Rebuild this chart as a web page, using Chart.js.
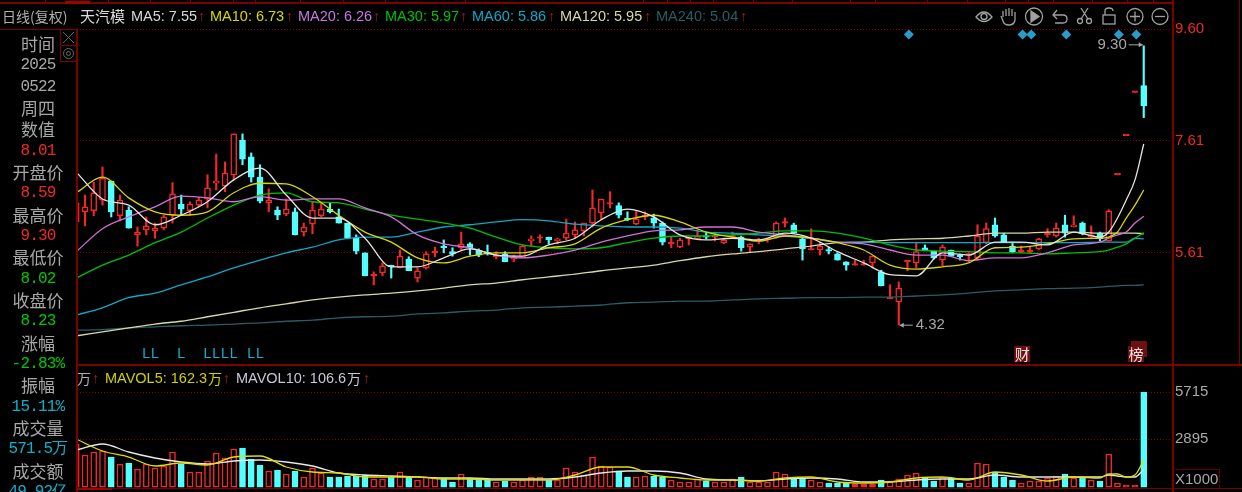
<!DOCTYPE html>
<html>
<head>
<meta charset="utf-8">
<title>天汽模 日线</title>
<script src="https://cdn.jsdelivr.net/npm/chart.js@4"></script>
<style>
  html, body { margin: 0; padding: 0; background: #000; overflow: hidden; }
  #wrap { position: relative; width: 1242px; height: 492px; overflow: hidden; background: #000; }
  canvas { position: absolute; left: 0; top: 0; }
  .t { position: absolute; white-space: nowrap; line-height: 20px; height: 20px; font-family: "Liberation Sans", sans-serif; font-size: 14.5px; }
  .cn { font-family: "Noto Sans CJK SC", sans-serif; }
  .side { width: 76px; left: 0; text-align: center; }
  .side.lab { font-family: "Noto Sans CJK SC", sans-serif; font-size: 17px; color: #a8a8a8; }
  .side.num { font-family: "Liberation Mono", monospace; font-size: 16px; letter-spacing: -0.8px; }
  .ln { position: absolute; background: #7c0000; }
</style>
</head>
<body>
<div id="wrap">
  <canvas id="kline" width="1242" height="492"></canvas>
</div>
<script>
// candles, oldest first (the last one is 2025-05-22)
const opens = [6.16,6.34,6.36,6.55,6.89,6.27,6.37,5.93,6.02,6.00,6.05,6.28,6.48,6.36,6.46,6.57,6.85,6.80,7.00,7.62,7.32,6.96,6.50,6.37,6.30,6.34,5.98,6.12,6.27,6.39,6.25,6.14,5.87,5.61,5.20,5.25,5.38,5.34,5.50,5.16,5.34,5.61,5.71,5.63,5.70,5.77,5.66,5.61,5.54,5.59,5.50,5.52,5.82,5.87,5.89,5.82,5.87,5.93,6.00,6.14,6.32,6.48,6.45,6.21,6.12,6.25,6.23,6.14,5.77,5.71,5.86,5.86,5.91,5.89,5.79,5.89,5.89,5.71,5.82,5.84,5.89,6.14,6.11,5.86,5.66,5.66,5.66,5.59,5.45,5.39,5.39,5.43,5.27,4.79,4.73,5.45,5.43,5.70,5.64,5.48,5.66,5.55,5.57,5.52,5.79,6.11,5.93,5.73,5.63,5.63,5.68,5.93,5.91,6.11,6.07,6.14,5.89,5.96,5.82,7.00,7.70,8.47,8.59];
const highs = [6.59,6.64,6.87,7.14,6.89,6.64,6.43,6.07,6.25,6.14,6.28,6.86,6.64,6.52,6.60,7.00,7.37,7.23,7.73,7.73,7.39,7.18,6.75,6.43,6.57,6.41,6.14,6.52,6.50,6.50,6.39,6.14,5.93,5.61,5.27,5.43,5.39,5.66,5.54,5.34,5.63,5.71,5.84,5.70,5.98,5.79,5.68,5.75,5.63,5.63,5.57,5.75,5.91,5.93,5.89,5.87,6.21,6.16,6.14,6.73,6.57,6.70,6.50,6.34,6.36,6.34,6.30,6.16,5.89,5.87,5.87,6.02,5.98,5.98,5.87,5.98,5.91,5.77,5.87,5.87,6.16,6.23,6.14,5.89,6.04,5.80,5.71,5.61,5.45,5.48,5.48,5.55,5.30,5.04,5.09,5.47,5.80,5.75,5.64,5.75,5.66,5.59,5.61,6.11,6.14,6.23,5.96,5.80,5.73,5.71,5.87,6.04,6.14,6.28,6.27,6.16,6.09,5.98,6.38,7.00,7.70,8.47,9.30];
const lows = [6.09,6.09,6.27,6.46,6.25,6.18,6.05,5.73,5.93,5.87,6.02,6.14,6.28,6.28,6.43,6.41,6.73,6.70,6.91,7.18,6.87,6.50,6.34,6.20,6.27,5.93,5.91,5.95,6.25,6.32,6.14,5.86,5.59,5.20,5.04,5.20,5.16,5.34,5.29,5.09,5.32,5.54,5.61,5.55,5.66,5.57,5.54,5.57,5.50,5.45,5.45,5.52,5.73,5.79,5.77,5.77,5.84,5.87,5.91,6.07,6.20,6.41,6.23,6.18,6.11,6.20,6.05,5.75,5.70,5.70,5.75,5.86,5.86,5.82,5.77,5.87,5.64,5.63,5.77,5.80,5.87,6.07,5.96,5.48,5.66,5.57,5.59,5.48,5.30,5.39,5.39,5.34,5.02,4.79,4.32,5.29,5.34,5.66,5.50,5.38,5.54,5.48,5.45,5.48,5.77,5.89,5.79,5.61,5.61,5.61,5.66,5.89,5.89,5.89,6.07,5.93,5.86,5.82,5.82,7.00,7.70,8.47,8.02];
const closes = [6.50,6.43,6.68,6.94,6.34,6.55,6.05,5.98,6.09,6.05,6.25,6.66,6.39,6.48,6.55,6.77,6.89,7.03,7.73,7.28,6.96,6.53,6.55,6.28,6.39,5.93,6.07,6.37,6.39,6.34,6.14,5.87,5.64,5.20,5.22,5.38,5.36,5.55,5.29,5.29,5.59,5.63,5.70,5.59,5.77,5.70,5.57,5.59,5.57,5.45,5.54,5.73,5.86,5.89,5.84,5.86,5.96,6.02,6.14,6.41,6.57,6.50,6.28,6.20,6.21,6.28,6.14,5.80,5.79,5.84,5.87,5.91,5.89,5.91,5.84,5.91,5.70,5.77,5.84,5.86,6.14,6.16,5.96,5.68,5.68,5.73,5.64,5.48,5.39,5.41,5.41,5.55,5.02,4.82,4.98,5.47,5.63,5.66,5.52,5.71,5.55,5.54,5.59,5.91,6.04,5.91,5.80,5.63,5.64,5.64,5.86,5.95,6.05,5.96,6.11,5.95,5.93,5.86,6.36,7.00,7.70,8.47,8.23];
const volumes = [2595,1935,2115,2175,1815,1395,1455,1095,1395,1155,1275,2115,1395,915,915,1575,2055,1755,2295,2355,1695,1335,975,1035,795,975,615,1155,855,615,615,675,675,735,495,495,615,915,615,435,615,615,555,315,795,555,495,495,315,375,315,435,615,615,435,435,1155,915,735,1815,1275,1215,975,615,615,675,675,615,435,315,315,495,375,315,315,495,615,315,315,315,915,795,495,555,435,315,255,255,315,195,195,195,435,375,495,735,855,555,375,615,555,255,255,1455,1395,915,615,435,255,375,375,555,675,795,555,555,435,375,1995,255,135,135,5715];

const maIndex = [0,3,6,9,12,15,18,21,24,27,30,33,36,39,42,45,48,51,54,57,60,63,66,69,72,75,78,81,84,87,90,93,96,99,102,105,108,111,114,117,118,119,120,121,122];
const ma5 = [7.05,6.57,6.46,6.11,6.28,6.52,6.91,7.12,6.64,6.23,6.23,5.87,5.36,5.36,5.52,5.68,5.57,5.55,5.75,5.87,6.20,6.39,6.25,5.93,5.84,5.87,5.84,5.96,5.87,5.63,5.43,5.22,5.20,5.61,5.57,5.80,5.80,5.75,5.98,5.89,5.98,6.23,6.55,6.91,7.55];
const ma10 = [6.68,6.96,6.59,6.34,6.28,6.34,6.68,6.85,6.84,6.61,6.28,5.98,5.80,5.52,5.43,5.55,5.61,5.61,5.70,5.77,6.05,6.20,6.28,6.16,5.98,5.89,5.82,5.91,5.87,5.79,5.66,5.39,5.32,5.36,5.43,5.70,5.71,5.77,5.86,5.87,5.89,5.98,6.23,6.46,6.73];
const ma20 = [5.63,6.04,6.25,6.43,6.62,6.59,6.52,6.61,6.55,6.57,6.57,6.41,6.25,5.93,5.77,5.70,5.57,5.52,5.57,5.66,5.80,5.91,6.00,6.02,6.07,6.07,5.98,5.93,5.87,5.80,5.77,5.66,5.57,5.57,5.47,5.52,5.52,5.61,5.75,5.80,5.87,5.93,5.98,6.14,6.26];
const ma30 = [5.16,5.39,5.57,5.79,5.98,6.23,6.46,6.64,6.68,6.52,6.50,6.39,6.28,6.21,6.14,6.05,5.89,5.75,5.70,5.68,5.70,5.79,5.87,5.91,5.91,5.93,5.96,6.00,6.00,5.96,5.87,5.75,5.66,5.64,5.63,5.61,5.61,5.59,5.61,5.63,5.66,5.71,5.77,5.87,5.97];
const ma60 = [4.50,4.63,4.81,4.89,5.04,5.18,5.34,5.48,5.61,5.71,5.84,5.89,5.89,5.98,6.07,6.11,6.16,6.20,6.18,6.12,6.09,6.07,6.07,6.05,5.98,5.96,5.93,5.91,5.87,5.80,5.80,5.79,5.79,5.79,5.79,5.79,5.79,5.79,5.79,5.80,5.80,5.80,5.80,5.87,5.86];
const ma120 = [4.13,4.20,4.27,4.34,4.39,4.47,4.55,4.63,4.70,4.77,4.82,4.86,4.89,4.93,4.98,5.04,5.07,5.13,5.18,5.23,5.29,5.34,5.39,5.47,5.54,5.59,5.63,5.68,5.73,5.79,5.80,5.84,5.86,5.87,5.91,5.96,5.96,5.98,5.98,5.96,5.96,5.96,5.96,5.96,5.95];
const ma240 = [4.23,4.24,4.27,4.29,4.31,4.32,4.34,4.36,4.39,4.41,4.45,4.47,4.48,4.52,4.54,4.57,4.59,4.63,4.64,4.66,4.68,4.72,4.73,4.75,4.75,4.77,4.79,4.80,4.81,4.81,4.82,4.82,4.84,4.86,4.89,4.93,4.95,4.97,4.98,5.00,5.01,5.02,5.03,5.03,5.04];
const mavol5 = [2895,2175,1815,1275,1455,1335,1815,1875,1215,915,855,615,615,615,495,495,435,435,435,735,1215,1215,735,555,435,435,375,555,615,315,255,315,555,615,435,915,735,375,615,555,795,795,615,735,1623];
const mavol10 = [2235,2595,2115,1755,1515,1395,1575,1635,1515,1275,855,735,675,615,555,555,495,495,495,615,855,975,975,855,495,435,375,495,555,495,315,315,435,495,495,735,615,615,615,615,735,675,615,615,1066];

// axis ticks and the marks on the chart
const priceTicks = [9.60, 7.61, 5.61];
const volumeTicks = [5715, 2895];
const signalIndex = [95.15, 108.15, 109.15, 113.15, 119.15, 121.15];
const signalPrice = [9.50, 9.50, 9.50, 9.50, 9.50, 9.50];
const lMarkIndex = [8, 9, 12, 15, 16, 17, 18, 20, 21];

const RED = '#f02828';
const CYAN = '#54ffff';
const lastIndex = closes.length - 1;
const isUp = i => closes[i] >= opens[i];

function maLine(label, values, color, axis, width) {
  return {
    type: 'line', label: label, yAxisID: axis, order: 1,
    data: maIndex.map((idx, k) => ({ x: idx, y: values[k] })),
    borderColor: color, borderWidth: width || 1.3, pointRadius: 0,
    cubicInterpolationMode: 'monotone', fill: false
  };
}

// no label margins and a fixed width, so the panes fill the canvas exactly
function fitAxis(s) {
  s.width = 70;
  s.paddingTop = 0;
  s.paddingBottom = 0;
}

const wicks = {
  type: 'bar', label: 'wick', yAxisID: 'y', order: 3, grouped: false, barThickness: 1.5,
  data: opens.map((o, i) => ({ x: i, y: [lows[i], highs[i]] })),
  backgroundColor: opens.map((o, i) => isUp(i) ? RED : CYAN)
};
// a very flat up candle has no room for a hollow middle, so it is filled
const bodies = {
  type: 'bar', label: 'body', yAxisID: 'y', order: 2, grouped: false, barThickness: 6, minBarLength: 1.5,
  data: opens.map((o, i) => ({ x: i, y: [o, closes[i]] })),
  backgroundColor: opens.map((o, i) => isUp(i) ? (closes[i] - o < 0.04 ? RED : '#000') : CYAN),
  borderColor: opens.map((o, i) => isUp(i) ? RED : CYAN),
  borderWidth: 1.5, borderSkipped: false
};
const volumeBars = {
  type: 'bar', label: 'volume', yAxisID: 'yv', order: 2, grouped: false, barThickness: 6,
  data: volumes.map((v, i) => ({ x: i, y: v })),
  backgroundColor: volumes.map((v, i) => isUp(i) ? (v < 200 ? RED : '#000') : CYAN),
  borderColor: volumes.map((v, i) => isUp(i) ? RED : CYAN),
  borderWidth: 1.5, borderSkipped: false
};
const signals = {
  type: 'scatter', label: 'signal', yAxisID: 'y', order: 0,
  data: signalIndex.map((idx, k) => ({ x: idx, y: signalPrice[k] })),
  pointStyle: 'rectRot', pointRadius: 5, backgroundColor: '#2a9ccb', borderWidth: 0
};

// text and flags tied to candles, drawn through the chart's scales
const markPlugin = {
  id: 'marks',
  afterDatasetsDraw(chart) {
    const { ctx, scales } = chart;
    const px = i => scales.x.getPixelForValue(i);
    const py = v => scales.y.getPixelForValue(v);
    const rowY = scales.y.bottom - 11;
    ctx.save();
    ctx.textBaseline = 'middle';

    ctx.font = '14px "Liberation Sans"';
    ctx.fillStyle = '#12b4d2';
    ctx.textAlign = 'center';
    lMarkIndex.forEach(i => ctx.fillText('L', px(i), rowY));

    ctx.fillStyle = '#6e1010';
    ctx.fillRect(px(108) - 7, rowY - 8, 16, 16);
    ctx.fillRect(px(121) - 7, rowY - 8, 16, 16);
    ctx.fillRect(px(121) - 4, rowY - 13, 16, 16);
    ctx.fillStyle = '#f0e0e0';
    ctx.font = '15px "Noto Sans CJK SC"';
    ctx.fillText('财', px(108) + 1, rowY);
    ctx.fillText('榜', px(121) + 1, rowY);

    ctx.font = '15px "Liberation Sans"';
    ctx.fillStyle = '#a8a8a8';
    ctx.strokeStyle = '#a8a8a8';
    ctx.lineWidth = 1;
    const hi = py(highs[lastIndex]) - 1;
    const lo = py(lows[94]);
    ctx.textAlign = 'right';
    ctx.fillText(highs[lastIndex].toFixed(2), px(lastIndex) - 17, hi);
    ctx.textAlign = 'left';
    ctx.fillText(lows[94].toFixed(2), px(94) + 17, lo);
    ctx.beginPath();
    ctx.moveTo(px(lastIndex) - 15, hi); ctx.lineTo(px(lastIndex) - 1, hi);
    ctx.moveTo(px(94) + 14, lo); ctx.lineTo(px(94) + 1, lo);
    ctx.stroke();
    ctx.beginPath();
    ctx.moveTo(px(lastIndex) - 1, hi); ctx.lineTo(px(lastIndex) - 5, hi - 2.5); ctx.lineTo(px(lastIndex) - 5, hi + 2.5);
    ctx.moveTo(px(94) + 1, lo); ctx.lineTo(px(94) + 5, lo - 2.5); ctx.lineTo(px(94) + 5, lo + 2.5);
    ctx.fill();
    ctx.restore();
  }
};

new Chart(document.getElementById('kline'), {
  data: {
    datasets: [
      maLine('MA5', ma5, '#e4e4e4', 'y'),
      maLine('MA10', ma10, '#d8d800', 'y'),
      maLine('MA20', ma20, '#d070d8', 'y'),
      maLine('MA30', ma30, '#00c000', 'y'),
      maLine('MA60', ma60, '#10a8c8', 'y'),
      maLine('MA120', ma120, '#d8d8a8', 'y'),
      maLine('MA240', ma240, '#2a5c66', 'y'),
      maLine('MAVOL5', mavol5, '#e0e000', 'yv'),
      maLine('MAVOL10', mavol10, '#e8e8e8', 'yv'),
      signals, bodies, wicks, volumeBars
    ]
  },
  options: {
    responsive: false,
    animation: false,
    layout: { autoPadding: false, padding: { left: 77, right: 0, top: 0, bottom: 0 } },
    plugins: { legend: { display: false }, tooltip: { enabled: false } },
    scales: {
      x: { type: 'linear', min: 0.086, max: 125.23, display: false, offset: false },
      y: {
        position: 'right', stack: 'panes', stackWeight: 365, weight: 1, min: 3.61, max: 10.117,
        afterFit: fitAxis,
        afterBuildTicks: s => { s.ticks = priceTicks.map(v => ({ value: v })); },
        grid: { color: '#8a0000', lineWidth: 1, drawTicks: false },
        border: { display: false, dash: [1, 2] },
        ticks: { color: RED, padding: 3, autoSkip: false, font: { family: 'Liberation Sans', size: 15 }, callback: v => v.toFixed(2) }
      },
      yv: {
        position: 'right', stack: 'panes', stackWeight: 127, weight: 2, min: -285, max: 7335,
        afterFit: fitAxis,
        afterBuildTicks: s => { s.ticks = volumeTicks.map(v => ({ value: v })); },
        grid: { color: '#8a0000', lineWidth: 1, drawTicks: false },
        border: { display: false, dash: [1, 2] },
        ticks: { color: '#a8a8a8', padding: 3, autoSkip: false, font: { family: 'Liberation Sans', size: 15 }, callback: v => String(v) }
      }
    }
  },
  plugins: [markPlugin]
});

// page furniture around the chart
const wrap = document.getElementById('wrap');
function line(x, y, w, h, color) {
  const d = document.createElement('div');
  d.className = 'ln';
  d.style.cssText = `left:${x}px;top:${y}px;width:${w}px;height:${h}px;` + (color ? `background:${color};` : '');
  wrap.appendChild(d);
}
function text(str, x, yc, color, cls) {
  const d = document.createElement('div');
  d.className = 't' + (cls ? ' ' + cls : '');
  d.textContent = str;
  d.style.left = x + 'px';
  d.style.top = (yc - 10) + 'px';
  d.style.color = color;
  wrap.appendChild(d);
  return d;
}

line(0, 2, 1172, 2);
line(65, 1, 25, 3, '#a00000');
[45, 108, 150, 190, 233, 255, 300, 343, 385, 465, 643, 667, 690, 713, 753, 792, 850, 875, 927, 967, 1005, 1028, 1053, 1092, 1127, 1153].forEach(x => line(x, 0, 1, 3));
line(1172, 0, 1.5, 492);
line(1239, 0, 1, 364);
line(76, 29, 1.5, 463);
line(0, 29, 77, 1);
line(77, 364, 1165, 2);
line(77, 487.5, 1165, 1);
line(77, 488, 35, 2, '#a00000');

// header
text('日线(复权)', 2, 16, '#b0b0b0', 'cn').style.fontSize = '14px';
text('天汽模', 80, 16, '#dcdcdc', 'cn').style.fontSize = '15px';
const maTitles = ['MA5: 7.55', 'MA10: 6.73', 'MA20: 6.26', 'MA30: 5.97', 'MA60: 5.86', 'MA120: 5.95', 'MA240: 5.04'];
const maTitleX = [131, 210, 298, 385, 472, 560, 656];
const maArrowX = [198, 286, 373, 460, 548, 644, 740];
const maColors = ['#d8d8d8', '#d8d800', '#c878e0', '#00c000', '#10a8c8', '#d8d8a8', '#2a5c66'];
maTitles.forEach((t, i) => {
  text(t, maTitleX[i], 16, maColors[i]);
  text('↑', maArrowX[i], 16, '#a02020');
});

// volume pane header
text('万', 77, 378, '#b0b0b0', 'cn').style.fontSize = '14px';
text('↑', 92, 378, '#a02020');
text('MAVOL5: 162.3', 105, 378, '#d0d000');
text('万', 208, 378, '#d0d000', 'cn').style.fontSize = '14px';
text('↑', 223, 378, '#a02020');
text('MAVOL10: 106.6', 236, 378, '#c8c8d4');
text('万', 347, 378, '#c8c8d4', 'cn').style.fontSize = '14px';
text('↑', 363, 378, '#a02020');

// left info panel
const panelRows = [
  ['时间', 'lab'], ['2025', 'num', '#a8a8a8'], ['0522', 'num', '#a8a8a8'], ['周四', 'lab'],
  ['数值', 'lab'], ['8.01', 'num', '#f02828'], ['开盘价', 'lab'], ['8.59', 'num', '#f02828'],
  ['最高价', 'lab'], ['9.30', 'num', '#f02828'], ['最低价', 'lab'], ['8.02', 'num', '#00c800'],
  ['收盘价', 'lab'], ['8.23', 'num', '#00c800'], ['涨幅', 'lab'], ['-2.83%', 'num', '#00c800'],
  ['振幅', 'lab'], ['15.11%', 'num', '#10b0cc'], ['成交量', 'lab'], ['571.5万', 'num', '#10b0cc'],
  ['成交额', 'lab'], ['49.92亿', 'num', '#10b0cc']
];
panelRows.forEach((r, i) => {
  const d = text(r[0], 0, 44 + i * 21.33, r[2] || '#a8a8a8', 'side ' + r[1]);
  d.style.left = '0px';
});

// X1000 box on the volume axis
line(1172, 469, 47, 1, '#600000');
line(1219, 469, 1, 19, '#600000');
text('X1000', 1175, 479, '#a8a8a8').style.fontSize = '15px';

// small icons: close and gear boxes, toolbar
const icons = document.createElementNS('http://www.w3.org/2000/svg', 'svg');
icons.setAttribute('width', '1242');
icons.setAttribute('height', '492');
icons.style.cssText = 'position:absolute;left:0;top:0;pointer-events:none;';
icons.innerHTML = `
  <g fill="none" stroke="#7c0000">
    <rect x="60.5" y="29.5" width="16" height="16"/><rect x="60.5" y="45.5" width="16" height="16"/>
  </g>
  <g fill="none" stroke="#666" stroke-width="1">
    <path d="M63 32 L74 43 M74 32 L63 43"/>
    <circle cx="68.5" cy="53.5" r="5"/><circle cx="68.5" cy="53.5" r="2"/>
  </g>
  <g fill="none" stroke="#a0a0a0" stroke-width="1.3">
    <path d="M976 17 Q984 7 992 17 Q984 26 976 17 Z"/><circle cx="984" cy="16.5" r="3"/>
    <path d="M1003 17 L1003 11 M1006 16 L1006 9 M1009 16 L1009 8 M1012 16 L1012 9 M1015 17 L1015 12 L1015 20 Q1014 25 1009 25 Q1004 25 1003 21 L1001 16"/>
    <circle cx="1034" cy="16.5" r="8.5"/><path d="M1031 11 L1039 16.5 L1031 22 Z" fill="#a0a0a0"/>
    <path d="M1053 15 L1063 15 Q1067 15 1067 19 Q1067 23 1063 23 L1055 23 M1057 10 L1053 15 L1057 19"/>
    <circle cx="1080" cy="21" r="2.5"/><circle cx="1089" cy="21" r="2.5"/><path d="M1081 19 L1088 8 M1088 19 L1081 8"/>
    <rect x="1103" y="15" width="12" height="9"/><path d="M1105 15 L1105 11 Q1105 8 1109 8 Q1113 8 1113 11"/>
    <circle cx="1135" cy="16.5" r="8"/><path d="M1130 16.5 L1140 16.5 M1135 11.5 L1135 21.5"/>
    <circle cx="1160" cy="16.5" r="8"/><path d="M1155 16.5 L1165 16.5"/>
  </g>`;
wrap.appendChild(icons);
</script>
</body>
</html>
